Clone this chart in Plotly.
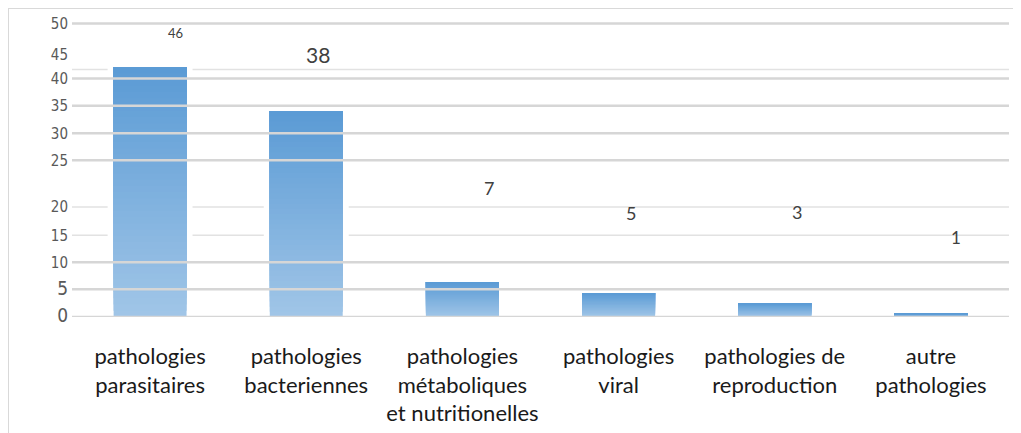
import plotly.graph_objects as go

# categories and bar heights (read in the chart's drawn scale)
categories = [
    "pathologies<br>parasitaires",
    "pathologies<br>bacteriennes",
    "pathologies<br>métaboliques<br>et nutritionelles",
    "pathologies<br>viral",
    "pathologies de<br>reproduction",
    "autre<br>pathologies",
]
bar_heights = [42.6, 35.1, 5.96, 4.09, 2.28, 0.55]

# value labels as printed, and where they sit on the value axis
value_labels = ["46", "38", "7", "5", "3", "1"]
value_label_y = [48.4, 44.8, 22.0, 17.7, 17.9, 13.5]

# y tick labels and their drawn positions (the original axis is uneven)
tick_labels = ["0", "5", "10", "15", "20", "25", "30", "35", "40", "45", "50"]
tick_pos = [0, 4.72, 9.32, 13.92, 18.73, 26.70, 31.31, 35.99, 40.63, 44.77, 50]

# gridlines drawn over the bars / faint ones behind them
grid_front = [0, 4.72, 9.32, 26.70, 31.31, 35.99, 40.63, 50]
grid_back = [13.92, 18.73, 42.16]

TOP = (91, 155, 213)
BOTTOM = (160, 197, 231)
N_STEPS = 40
BAR_W = 0.467


def mix(a, b, t):
    return "rgb(%d,%d,%d)" % tuple(round(a[k] + (b[k] - a[k]) * t) for k in range(3))


fig = go.Figure()

# white halo behind each bar, hides the faint gridlines around the bars
fig.add_bar(x=categories, y=bar_heights, width=0.544, marker=dict(color="white", line_width=0),
            hoverinfo="skip", showlegend=False)

# vertical gradient: each slice runs to the bar top, later (darker) slices cover the upper part
for i in range(N_STEPS):
    base = [v * i / N_STEPS for v in bar_heights]
    seg = [v - b for v, b in zip(bar_heights, base)]
    fig.add_bar(
        x=categories, y=seg, base=base, width=BAR_W,
        marker=dict(color=mix(BOTTOM, TOP, i / (N_STEPS - 1)), line_width=0),
        hoverinfo="skip", showlegend=False,
    )

shifts = [25, 12, 27, 12, 22, 25]
sizes = [13, 21, 18, 18, 18, 17]
for cat, txt, yv, dx, fs in zip(categories, value_labels, value_label_y, shifts, sizes):
    fig.add_annotation(x=cat, y=yv, text=txt, showarrow=False, xshift=dx,
                       font=dict(family="Lato, Carlito, sans-serif", size=fs, color="#404040"))

for yv in grid_front:
    fig.add_shape(type="line", xref="paper", yref="y", x0=0, x1=1, y0=yv, y1=yv,
                  line=dict(color="#d6d6d6", width=2.5), layer="above")
for yv in grid_back:
    fig.add_shape(type="line", xref="paper", yref="y", x0=0, x1=1, y0=yv, y1=yv,
                  line=dict(color="#e2e2e2", width=1.5), layer="below")

# outer frame (top and left edges of the original image)
fig.add_shape(type="line", xref="paper", yref="paper", x0=-0.0683, x1=1.0117, y0=1.0098, y1=1.0098,
              line=dict(color="#d9d9d9", width=2))
fig.add_shape(type="line", xref="paper", yref="paper", x0=-0.0683, x1=-0.0683, y0=1.0098, y1=-0.6,
              line=dict(color="#d9d9d9", width=2))

tick_text = []
for t in tick_labels:
    if t in ("0", "5"):
        tick_text.append('<span style="font-size:19px">%s</span>' % t)
    else:
        tick_text.append(t)

# the page puts the figure 8px in from the corner, so the figure is 8px smaller
fig.update_layout(
    width=1013,
    height=425,
    barmode="overlay",
    plot_bgcolor="white",
    paper_bgcolor="white",
    margin=dict(l=64, r=12, t=3, b=116, autoexpand=False),
    showlegend=False,
    xaxis=dict(
        showgrid=False, showline=False, zeroline=False, ticks="",
        ticklabelstandoff=24,
        tickfont=dict(family="Lato, Carlito, sans-serif", size=22, color="#1a1a1a"),
    ),
    yaxis=dict(
        range=[0, 52.15], showgrid=False, zeroline=False, showline=False, ticks="",
        tickvals=tick_pos, ticktext=tick_text, ticklabelstandoff=3,
        tickfont=dict(family="Liberation Sans Narrow, DejaVu Sans Condensed, sans-serif",
                      size=15, color="#595959"),
    ),
)

fig.write_html("out.html")
